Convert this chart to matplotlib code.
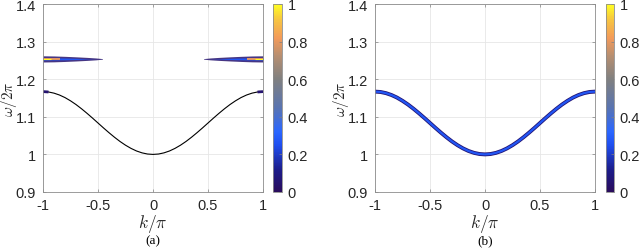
import matplotlib
matplotlib.use('Agg')
import matplotlib.pyplot as plt
import numpy as np
from matplotlib.colors import LinearSegmentedColormap, Normalize
from matplotlib.cm import ScalarMappable

plt.rcParams['font.family'] = ['Liberation Sans', 'DejaVu Sans']
plt.rcParams['mathtext.fontset'] = 'cm'

# lower band dispersion, k/pi >= 0 (curve is symmetric)
k_half = [0.0, 0.05, 0.1, 0.15, 0.2, 0.25, 0.3, 0.35, 0.4, 0.45, 0.5,
          0.55, 0.6, 0.65, 0.7, 0.75, 0.8, 0.85, 0.9, 0.95, 1.0]
w_half = [1.0, 1.001, 1.0041, 1.0091, 1.016, 1.0245, 1.0344, 1.0456, 1.0577, 1.0704, 1.0835,
          1.0966, 1.1093, 1.1214, 1.1326, 1.1425, 1.1511, 1.1579, 1.1629, 1.166, 1.167]

# upper band in panel (a), right half (mirrored for left half)
band_center = 1.254
band_k = [0.46, 0.52, 0.6, 0.7, 0.8, 0.9, 1.0]
band_outer = [0.0008, 0.0025, 0.004, 0.0055, 0.0068, 0.0078, 0.0082]  # dark part
band_blue = [0.0, 0.0, 0.0004, 0.0016, 0.0024, 0.0028, 0.003]         # blue core
orange_k = [0.85, 1.0]
yellow_k = [0.93, 1.0]

yticks = [0.9, 1.0, 1.1, 1.2, 1.3, 1.4]
ytick_labels = ['0.9', '1', '1.1', '1.2', '1.3', '1.4']
xticks = [-1, -0.5, 0, 0.5, 1]
xtick_labels = ['-1', '-0.5', '0', '0.5', '1']
cticks = [0, 0.2, 0.4, 0.6, 0.8, 1]
ctick_labels = ['0', '0.2', '0.4', '0.6', '0.8', '1']

cmap = LinearSegmentedColormap.from_list('spec', [
    (0.0, '#2a0c5c'), (0.12, '#1c1d8c'), (0.25, '#1f4ff0'), (0.32, '#2a66ff'),
    (0.45, '#5a74b0'), (0.6, '#808080'), (0.72, '#b48e72'), (0.82, '#f39a5a'),
    (0.92, '#f7c640'), (1.0, '#ffff22')])

axc = '#262626'
fs = 10.5


def style(ax):
    ax.set_xlim(-1, 1)
    ax.set_ylim(0.9, 1.4)
    ax.set_xticks(xticks)
    ax.set_xticklabels(xtick_labels)
    ax.set_yticks(yticks)
    ax.set_yticklabels(ytick_labels)
    ax.tick_params(direction='in', length=2.5, width=0.5, labelsize=fs,
                   top=True, right=True, colors='#808080', labelcolor=axc)
    ax.tick_params(axis='x', pad=4)
    ax.tick_params(axis='y', pad=5)
    ax.grid(True, color='#e6e6e6', lw=0.6)
    ax.set_axisbelow(True)
    for s in ax.spines.values():
        s.set_color('#8c8c8c')
        s.set_linewidth(0.6)
    ax.set_xlabel(r'$k/\pi$', fontsize=12.5, color=axc, labelpad=0)
    ax.set_ylabel(r'$\omega/2\pi$', fontsize=11, color=axc)
    ax.yaxis.set_label_coords(-0.11, 0.5)


def add_cbar(fig, rect):
    cax = fig.add_axes(rect)
    cb = fig.colorbar(ScalarMappable(Normalize(0, 1), cmap), cax=cax)
    cb.set_ticks(cticks)
    cb.set_ticklabels(ctick_labels)
    cax.tick_params(direction='in', length=2, width=0.5, labelsize=fs,
                    colors='#808080', labelcolor=axc, pad=4)
    cb.outline.set_edgecolor('#8c8c8c')
    cb.outline.set_linewidth(0.6)


fig = plt.figure(figsize=(6.4, 2.51), dpi=100)
H = 251.0
W = 640.0
ax1 = fig.add_axes([43 / W, 58 / H, 220 / W, 188 / H])
ax2 = fig.add_axes([375 / W, 58 / H, 220 / W, 188 / H])

k = np.concatenate([-np.array(k_half[:0:-1]), np.array(k_half)])
w = np.concatenate([np.array(w_half[:0:-1]), np.array(w_half)])

# panel (a)
style(ax1)
for sgn in (1, -1):
    bk = sgn * np.array(band_k)
    lo = band_center - np.array(band_outer)
    hi = band_center + np.array(band_outer)
    ax1.fill_between(bk, lo, hi, color=cmap(0.05), lw=0, alpha=0.85)
    ax1.fill_between(bk, band_center - np.array(band_blue), band_center + np.array(band_blue),
                     color=cmap(0.27), lw=0)
    ax1.plot(sgn * np.array(orange_k), [band_center] * 2, color=cmap(0.8), lw=1.4,
             solid_capstyle='butt')
    ax1.plot(sgn * np.array(yellow_k), [band_center] * 2, color=cmap(1.0), lw=0.8,
             solid_capstyle='butt')
ax1.plot(k, w, color='black', lw=0.8)
ax1.plot(k[:2], w[:2], color=cmap(0.05), lw=2.0, solid_capstyle='butt')
ax1.plot(k[-2:], w[-2:], color=cmap(0.05), lw=2.0, solid_capstyle='butt')
add_cbar(fig, [273 / W, 58 / H, 9 / W, 188 / H])

# panel (b)
style(ax2)
ax2.plot(k, w, color=cmap(0.06), lw=2.8)
ax2.plot(k, w, color=cmap(0.27), lw=1.6)
add_cbar(fig, [606 / W, 58 / H, 8 / W, 188 / H])

fig.text(153 / W, 1 - 241 / H, '(a)', ha='center', va='center', fontsize=9.5,
         family='Liberation Serif')
fig.text(485 / W, 1 - 241 / H, '(b)', ha='center', va='center', fontsize=9.5,
         family='Liberation Serif')

fig.savefig('out.png', dpi=100)
